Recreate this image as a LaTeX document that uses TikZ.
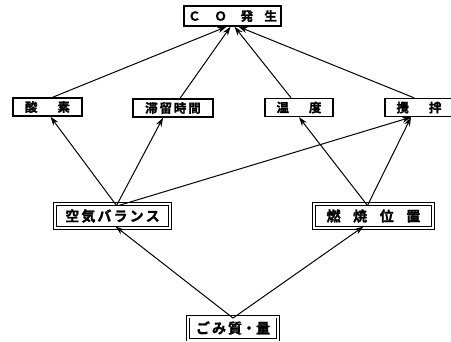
\documentclass[tikz,border=0pt]{standalone}
\usepackage{fontspec}
\setmainfont{Noto Sans CJK JP}[BoldFont={Noto Sans CJK JP Bold}, BoldFeatures={FakeBold=1.5}]
\usetikzlibrary{arrows.meta}
\tikzset{
  factor/.style={draw, line width=1.4pt, inner sep=0pt, font=\bfseries\fontsize{12.5}{12.5}\selectfont},
  source/.style={draw, double, double distance=2pt, line width=0.9pt, inner sep=0pt, font=\bfseries\fontsize{14}{14}\selectfont},
  cause/.style={line width=1pt, -{Stealth[length=9pt,width=6pt]}}
}
\newcommand{\gap}[1]{\hspace{#1}}
\begin{document}
\begin{tikzpicture}[x=1pt,y=-1pt]
\useasboundingbox (0,0) rectangle (451,341);
% top event
\node[factor, minimum width=97pt, minimum height=20pt] (co) at (232.5,16) {Ｃ\gap{1.1em}Ｏ\gap{1.1em}発\gap{0.9em}生};
% intermediate factors
\node[factor, minimum width=69pt, minimum height=18pt] (sanso) at (47.5,107) {酸\gap{1.6em}素};
\node[factor, minimum width=80pt, minimum height=18pt] (tairyu) at (173,108) {滞\gap{0.15em}留\gap{0.15em}時\gap{0.15em}間};
\node[factor, minimum width=68pt, minimum height=18pt] (ondo) at (299,107.5) {温\gap{1.6em}度};
\node[factor, minimum width=68pt, minimum height=18pt] (kakuhan) at (419,107.5) {攪\gap{1.6em}拌};
% operating conditions
\node[source, minimum width=115pt, minimum height=24pt] (kuuki) at (112.5,216) {空\gap{0.15em}気\gap{0.15em}バ\gap{0.15em}ラ\gap{0.15em}ン\gap{0.15em}ス};
\node[source, minimum width=119pt, minimum height=24pt] (nensho) at (373.5,216) {燃\gap{0.9em}焼\gap{0.9em}位\gap{0.9em}置};
\node[source, minimum width=90pt, minimum height=23pt] (gomi) at (233,328) {ご\gap{0.15em}み\gap{0.15em}質・量};
% causal links into CO
\draw[cause] ([xshift=5pt]sanso.north) -- ([xshift=-6pt]co.south);
\draw[cause] ([xshift=7pt]tairyu.north) -- ([xshift=-2pt]co.south);
\draw[cause] ([xshift=-8pt]ondo.north) -- ([xshift=2pt]co.south);
\draw[cause] ([xshift=-5pt]kakuhan.north) -- ([xshift=6pt]co.south);
% air balance
\draw[cause] ([xshift=4pt,yshift=-2pt]kuuki.north) -- ([xshift=3pt]sanso.south);
\draw[cause] ([xshift=4pt,yshift=-2pt]kuuki.north) -- ([xshift=-10pt]tairyu.south);
\draw[cause] ([xshift=6pt,yshift=-2pt]kuuki.north) -- ([xshift=-8pt]kakuhan.south);
% combustion position
\draw[cause] ([xshift=-6pt,yshift=-2pt]nensho.north) -- (ondo.south);
\draw[cause] ([xshift=-6pt,yshift=-2pt]nensho.north) -- ([xshift=-8pt]kakuhan.south);
% waste quality
\draw[cause] ([yshift=-2pt]gomi.north) -- ([xshift=3pt,yshift=2pt]kuuki.south);
\draw[cause] ([yshift=-2pt]gomi.north) -- ([xshift=-10pt,yshift=2pt]nensho.south);
\end{tikzpicture}
\end{document}
